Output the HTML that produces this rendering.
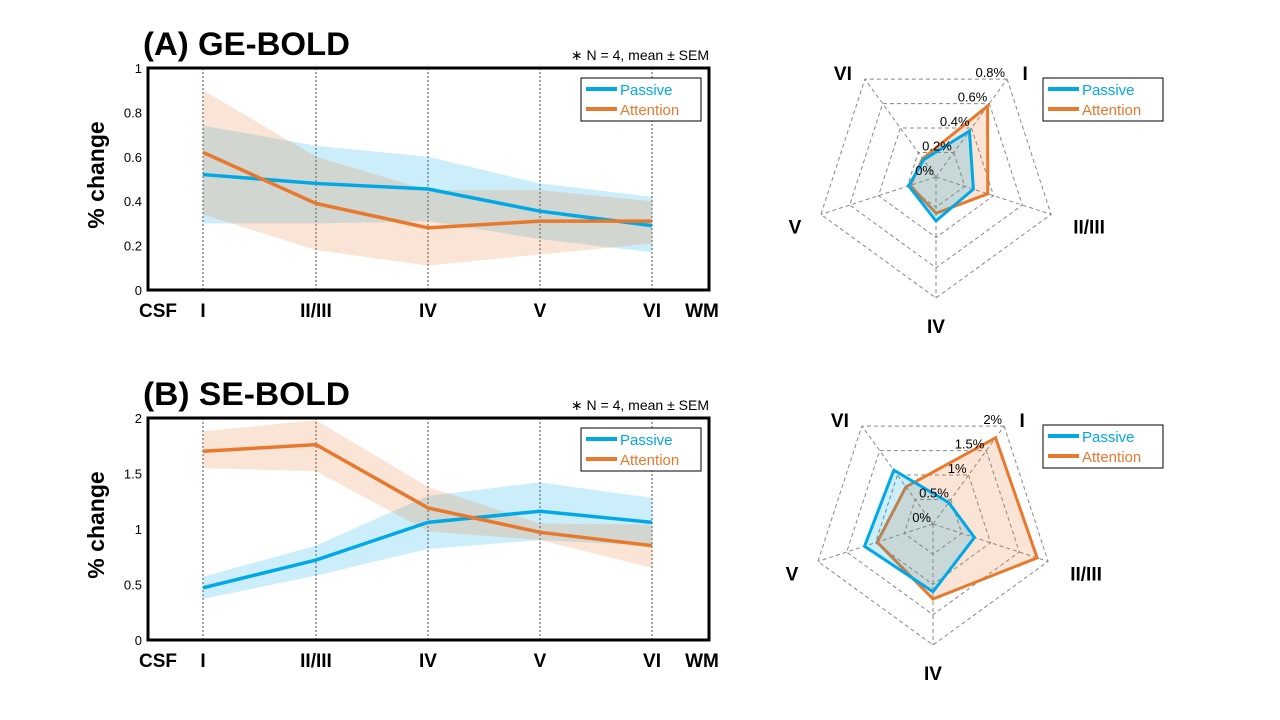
<!DOCTYPE html>
<html><head><meta charset="utf-8"><style>
body{margin:0;background:#fff;width:1280px;height:720px;overflow:hidden;font-family:"Liberation Sans",sans-serif}
svg{position:absolute;left:0;top:0}
</style></head><body>
<svg id="s" width="1280" height="720"></svg>
<script>
const layers=["I","II/III","IV","V","VI"];
const geP=[0.52,0.48,0.455,0.355,0.29], gePlo=[0.30,0.30,0.31,0.23,0.17], gePhi=[0.74,0.65,0.60,0.48,0.42];
const geA=[0.62,0.39,0.28,0.31,0.31], geAlo=[0.34,0.18,0.11,0.16,0.21], geAhi=[0.90,0.60,0.45,0.45,0.40];
const seP=[0.47,0.72,1.06,1.16,1.06], sePlo=[0.37,0.58,0.82,0.90,0.85], sePhi=[0.57,0.85,1.30,1.42,1.28];
const seA=[1.70,1.76,1.19,0.97,0.85], seAlo=[1.55,1.52,0.98,0.90,0.65], seAhi=[1.88,1.98,1.38,1.05,1.04];
const geTicks=["0","0.2","0.4","0.6","0.8","1"], seTicks=["0","0.5","1","1.5","2"];
const radGeP=[0.376,0.26,0.29,0.19,0.14], radGeA=[0.58,0.36,0.24,0.18,0.15];
const radSeP=[0.44,0.72,1.12,1.19,1.10], radSeA=[1.76,1.81,1.24,0.97,0.76];
const radGeRings=["0%","0.2%","0.4%","0.6%","0.8%"], radSeRings=["0%","0.5%","1%","1.5%","2%"];
const BLUE="#00a8e6", ORANGE="#e8782c";
const S=document.getElementById('s');
function el(t,a,txt){const e=document.createElementNS("http://www.w3.org/2000/svg",t);for(const k in a)e.setAttribute(k,a[k]);if(txt!==undefined)e.textContent=txt;S.appendChild(e);return e;}
function legend(x,y){
 const g=el('rect',{x:x,y:y,width:120,height:43,fill:'#fff',stroke:'#000','stroke-width':1});
 
 [[BLUE,'Passive'],[ORANGE,'Attention']].forEach((d,i)=>{
  const l=el('line',{x1:x+5,x2:x+36,y1:y+11+i*20,y2:y+11+i*20,stroke:d[0],'stroke-width':4});
  
  const t=el('text',{x:x+39,y:y+17+i*20,fill:d[0],'font-size':15},d[1]);
  
 });
}
function lineChart(top,max,ticks,P,Plo,Phi,A,Alo,Ahi,title,id){
 const L=148,R=709,T=top,B=top+222;
 const xs=[203,316,428,540,652];
 const y=v=>B-(v/max)*(B-T);
 const tt=el('text',{x:143,y:T-13,'font-size':32,'font-weight':'bold',textLength:207,lengthAdjust:'spacingAndGlyphs'},title);
 
 const n=el('text',{x:709,y:T-8,'font-size':14,'text-anchor':'end'},'∗ N = 4, mean ± SEM');
 
 xs.forEach((x,i)=>{const g=el('line',{x1:x,x2:x,y1:T,y2:B,stroke:'#000','stroke-width':0.7,'stroke-dasharray':'2,2'});});
 function band(lo,hi,c,nm){const pts=xs.map((x,i)=>x+','+y(hi[i])).concat(xs.slice().reverse().map((x,j)=>x+','+y(lo[4-j])));
  const p=el('polygon',{points:pts.join(' '),fill:c,'fill-opacity':0.2});}
 band(Plo,Phi,BLUE,id+'-passive-sem-band');band(Alo,Ahi,ORANGE,id+'-attention-sem-band');
 function line(v,c,nm){const p=el('polyline',{points:xs.map((x,i)=>x+','+y(v[i])).join(' '),fill:'none',stroke:c,'stroke-width':3.5});}
 line(P,BLUE,id+'-passive-line');line(A,ORANGE,id+'-attention-line');
 const bx=el('rect',{x:L,y:T,width:R-L,height:B-T,fill:'none',stroke:'#000','stroke-width':3});
 
 ticks.forEach((t,i)=>{const v=i*max/(ticks.length-1);const e=el('text',{x:142,y:y(v)+5,'font-size':13,'text-anchor':'end'},t);});
 const lab=['CSF'].concat(layers,['WM']);const lx=[158].concat(xs,[702]);
 lab.forEach((t,i)=>{const e=el('text',{x:lx[i],y:B+27,'font-size':19,'font-weight':'bold','text-anchor':'middle'},t);});
 const yl=el('text',{x:0,y:0,'font-size':23,'font-weight':'bold','text-anchor':'middle',transform:`translate(104,${(T+B)/2-4}) rotate(-90)`},'% change');
 
 legend(581,T+10);
}
function radar(cx,cy,max,rings,P,A,id){
 const Rr=121;
 const ang=i=>(-90+36+72*i)*Math.PI/180;
 const pt=(v,i)=>[cx+Math.cos(ang(i))*v/max*Rr,cy+Math.sin(ang(i))*v/max*Rr];
 for(let k=1;k<rings.length;k++){const v=k*max/(rings.length-1);
  const p=el('polygon',{points:[0,1,2,3,4].map(i=>pt(v,i).join(',')).join(' '),fill:'none',stroke:'#888','stroke-width':1,'stroke-dasharray':'4,3'});}
 for(let i=0;i<5;i++){const q=pt(max,i);const l=el('line',{x1:cx,y1:cy,x2:q[0],y2:q[1],stroke:'#888','stroke-width':1,'stroke-dasharray':'4,3'});}
 function poly(v,c,nm){const p=el('polygon',{points:v.map((x,i)=>pt(x,i).join(',')).join(' '),fill:c,'fill-opacity':0.2,stroke:c,'stroke-width':3});}
 poly(A,ORANGE,id+'-attention-polygon');poly(P,BLUE,id+'-passive-polygon');
 rings.forEach((r,k)=>{const v=k*max/(rings.length-1);const q=pt(v,0);const t=el('text',{x:q[0]-2,y:q[1]-2,'font-size':13,'text-anchor':'end'},r);});
 const off=[[18,-6],[38,12],[0,28],[-26,12],[-22,-6]];
 layers.forEach((n,i)=>{const q=pt(max,i);const t=el('text',{x:q[0]+off[i][0],y:q[1]+off[i][1]+7,'font-size':19,'font-weight':'bold','text-anchor':'middle'},n);});
 legend(1043,cy-99);
}
lineChart(68,1,geTicks,geP,gePlo,gePhi,geA,geAlo,geAhi,'(A) GE-BOLD','ge');
lineChart(418,2,seTicks,seP,sePlo,sePhi,seA,seAlo,seAhi,'(B) SE-BOLD','se');
radar(936,177,0.8,radGeRings,radGeP,radGeA,'ge-radar');
radar(933,524,2,radSeRings,radSeP,radSeA,'se-radar');
</script>
</body></html>
